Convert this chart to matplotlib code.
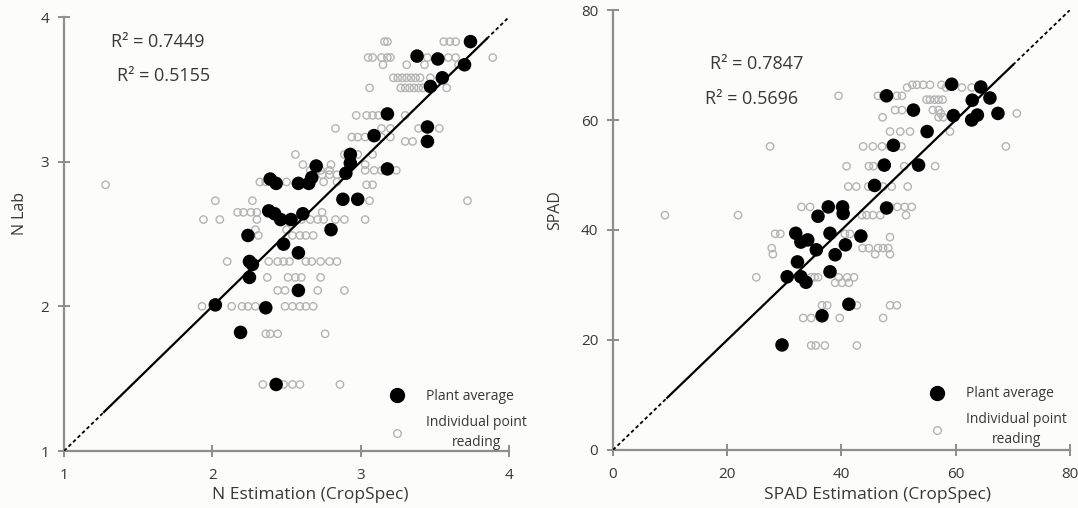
import matplotlib
matplotlib.use("Agg")
import matplotlib.pyplot as plt
from matplotlib.lines import Line2D

plt.rcParams['font.family'] = ['Open Sans', 'DejaVu Sans']

# ---- N panel ----
n_avg_est = [3.74, 3.38, 3.52, 3.70, 3.55, 3.47, 3.18, 3.45, 3.45, 3.09,
             2.93, 2.93, 3.18, 2.90, 2.70, 2.67, 2.65, 2.58, 2.39, 2.43,
             2.88, 2.98, 2.38, 2.42, 2.46, 2.53, 2.61, 2.80, 2.24, 2.48,
             2.58, 2.25, 2.27, 2.25, 2.58, 2.02, 2.36, 2.19, 2.43]
n_avg_lab = [3.83, 3.73, 3.71, 3.67, 3.58, 3.52, 3.33, 3.24, 3.14, 3.18,
             3.05, 2.99, 2.95, 2.92, 2.97, 2.89, 2.85, 2.85, 2.88, 2.85,
             2.74, 2.74, 2.66, 2.64, 2.60, 2.60, 2.64, 2.53, 2.49, 2.43,
             2.37, 2.31, 2.29, 2.20, 2.11, 2.01, 1.99, 1.82, 1.46]

# individual readings, grouped by lab value (one row per plant)
n_row_lab = [3.83, 3.72, 3.67, 3.58, 3.51, 3.32, 3.23, 3.17, 3.14, 3.05,
             2.98, 2.94, 2.91, 2.86, 2.84, 2.73, 2.65, 2.60, 2.53, 2.49,
             2.31, 2.20, 2.11, 2.00, 1.81, 1.46]
n_row_est = [
    [3.16, 3.18, 3.56, 3.60, 3.64],
    [3.05, 3.08, 3.14, 3.18, 3.20, 3.39, 3.45, 3.59, 3.64, 3.89],
    [3.15, 3.31, 3.43, 3.66],
    [3.22, 3.25, 3.28, 3.31, 3.34, 3.37, 3.40, 3.47, 3.56],
    [3.06, 3.27, 3.30, 3.33, 3.36, 3.39, 3.42, 3.58],
    [2.97, 3.04, 3.08, 3.12, 3.30],
    [2.83, 3.14, 3.20, 3.39, 3.45, 3.53],
    [2.94, 2.98, 3.03, 3.14, 3.20],
    [3.30, 3.35],
    [2.56, 2.89, 2.98, 3.08],
    [2.61, 2.80, 3.03],
    [2.66, 2.73, 2.79, 3.03, 3.09, 3.14, 3.24],
    [2.69, 2.74, 2.79, 2.84],
    [2.32, 2.36, 2.50, 2.75, 2.84],
    [1.28, 3.04, 3.08],
    [2.02, 2.27, 3.06, 3.72],
    [2.17, 2.21, 2.26, 2.30, 2.74],
    [1.94, 2.05, 2.30, 2.60, 2.66, 2.71, 2.75, 2.83, 2.89, 3.03],
    [2.29, 2.50],
    [2.31, 2.54, 2.59, 2.63, 2.68],
    [2.10, 2.38, 2.44, 2.48, 2.52, 2.63, 2.67, 2.73, 2.79, 2.84],
    [2.37, 2.51, 2.56, 2.60, 2.73],
    [2.44, 2.49, 2.71, 2.89],
    [1.93, 2.13, 2.20, 2.24, 2.29, 2.49, 2.54, 2.59, 2.63, 2.68],
    [2.36, 2.39, 2.44, 2.76],
    [2.34, 2.48, 2.54, 2.59, 2.86],
]
n_r2 = ["R\u00b2 = 0.7449", "R\u00b2 = 0.5155"]

# ---- SPAD panel ----
s_avg_est = [47.9, 59.3, 64.4, 66.0, 62.9, 52.6, 59.6, 63.8, 62.8, 67.4,
             55.0, 49.1, 47.5, 53.5, 45.8, 47.9, 35.9, 37.7, 40.2, 40.3,
             32.0, 38.0, 43.4, 32.9, 34.1, 35.6, 38.9, 40.7, 32.3, 30.5,
             32.9, 33.8, 38.0, 41.3, 36.6, 29.6]
s_avg_lab = [64.4, 66.5, 66.0, 64.0, 63.6, 61.8, 60.8, 60.9, 60.0, 61.2,
             57.9, 55.4, 51.8, 51.8, 48.1, 44.0, 42.5, 44.2, 44.2, 43.0,
             39.4, 39.4, 38.9, 37.8, 38.2, 36.4, 35.5, 37.3, 34.2, 31.5,
             31.5, 30.5, 32.4, 26.5, 24.4, 19.1]

s_row_lab = [66.4, 65.9, 64.4, 63.7, 61.8, 61.2, 60.5, 57.9, 55.2, 51.6,
             47.9, 44.2, 42.7, 39.3, 38.7, 36.7, 35.6, 31.4, 30.4, 26.3,
             24.0, 19.0]
s_row_est = [
    [52.4, 53.2, 54.3, 55.5, 57.5],
    [51.5, 58.3, 61.1, 62.8],
    [39.5, 46.4, 47.3, 49.7, 50.6],
    [54.9, 55.5, 56.3, 57.0, 57.7],
    [49.4, 50.6, 56.0, 57.0],
    [57.4, 70.7],
    [47.2, 57.0, 57.8],
    [48.5, 50.3, 52.0, 59.0],
    [27.5, 43.8, 45.5, 47.1, 48.5, 50.5, 68.8],
    [40.9, 44.8, 45.6, 51.0, 56.4],
    [41.2, 42.6, 44.7, 47.3, 48.8, 51.6],
    [33.0, 34.5, 48.5, 49.8, 51.1, 52.3],
    [9.1, 21.9, 43.6, 44.4, 45.5, 46.8, 51.3],
    [28.4, 29.3, 40.6, 41.5],
    [48.5],
    [27.8, 43.7, 44.8, 46.4, 47.3, 48.2],
    [28.0, 45.9, 48.5],
    [25.1, 34.7, 35.3, 35.9, 39.5, 41.0, 42.2],
    [38.9, 40.1, 41.3],
    [36.6, 37.5, 42.7, 48.5, 49.7],
    [33.3, 34.7, 39.7, 47.3],
    [34.7, 35.5, 37.1, 42.7],
]
s_r2 = ["R\u00b2 = 0.7847", "R\u00b2 = 0.5696"]

GRAY_PT = "#b4b4b4"
SPINE = "#8e8e8e"
TXT = "#383838"


def draw_panel(ax, avg_x, avg_y, row_y, row_x, lims, ticks, solid, r2, r2_pos,
               xlabel, ylabel, xlab_pos, ylab_pos, leg_pos):
    """One scatter panel with 1:1 line, R² notes and legend."""
    px = [x for xs in row_x for x in xs]
    py = [y for y, xs in zip(row_y, row_x) for _ in xs]
    ax.scatter(px, py, s=28, facecolors="none", edgecolors=GRAY_PT,
               linewidths=1.0, zorder=2)
    ax.scatter(avg_x, avg_y, s=95, color="black", edgecolors="none", zorder=3)

    lo, hi = lims
    ax.plot([lo, solid[0]], [lo, solid[0]], color="black", lw=1.3, ls=(0, (2, 1.5)), zorder=4)
    ax.plot(solid, solid, color="black", lw=1.6, zorder=4)
    ax.plot([solid[1], hi], [solid[1], hi], color="black", lw=1.3, ls=(0, (2, 1.5)), zorder=4)

    ax.set_xlim(lo, hi)
    ax.set_ylim(lo, hi)
    ax.set_xticks(ticks)
    ax.set_yticks(ticks)
    for s in ("top", "right"):
        ax.spines[s].set_visible(False)
    for s in ("left", "bottom"):
        ax.spines[s].set_color(SPINE)
        ax.spines[s].set_linewidth(1.6)
        ax.spines[s].set_zorder(1)
    ax.tick_params(direction="inout", length=9, width=1.4, color=SPINE,
                   labelsize=11, labelcolor=TXT)
    ax.tick_params(axis="x", pad=8)
    ax.tick_params(axis="y", pad=6)
    ax.set_facecolor("none")

    for txt, (tx, ty) in zip(r2, r2_pos):
        ax.text(tx, ty, txt, fontsize=13, color=TXT, va="center", ha="left")

    ax.set_xlabel(xlabel, fontsize=12.5, color=TXT)
    ax.set_ylabel(ylabel, fontsize=11.5, color=TXT)
    ax.xaxis.set_label_coords(*xlab_pos)
    ax.yaxis.set_label_coords(*ylab_pos)

    handles = [
        Line2D([], [], ls="none", marker="o", ms=10, color="black"),
        Line2D([], [], ls="none", marker="o", ms=5.5, mfc="none",
               mec=GRAY_PT, mew=1.0),
    ]
    leg = ax.legend(handles, ["Plant average", "Individual point\nreading"],
                    loc="center", bbox_to_anchor=leg_pos, frameon=False,
                    fontsize=10, handletextpad=1.1, labelspacing=0.75,
                    borderpad=0, borderaxespad=0)
    for t in leg.get_texts():
        t.set_multialignment("center")
        t.set_linespacing(1.45)
        t.set_color(TXT)


fig = plt.figure(figsize=(10.78, 5.08), dpi=100, facecolor="#fcfcfa")
ax1 = fig.add_axes([0.0594, 0.1122, 0.4128, 0.8543])
ax2 = fig.add_axes([0.5686, 0.1142, 0.4239, 0.8661])

draw_panel(ax1, n_avg_est, n_avg_lab, n_row_lab, n_row_est,
           (1, 4), [1, 2, 3, 4], (1.27, 3.85), n_r2,
           [(1.32, 3.83), (1.36, 3.59)],
           "N Estimation (CropSpec)", "N Lab",
           (0.553, -0.083), (-0.081, 0.548), (0.878, 0.073))
draw_panel(ax2, s_avg_est, s_avg_lab, s_row_lab, s_row_est,
           (0, 80), [0, 20, 40, 60, 80], (9.5, 70), s_r2,
           [(17.0, 70.2), (16.1, 63.8)],
           "SPAD Estimation (CropSpec)", "SPAD",
           (0.578, -0.084), (-0.109, 0.545), (0.836, 0.076))

fig.savefig("out.png", dpi=100, facecolor=fig.get_facecolor())
